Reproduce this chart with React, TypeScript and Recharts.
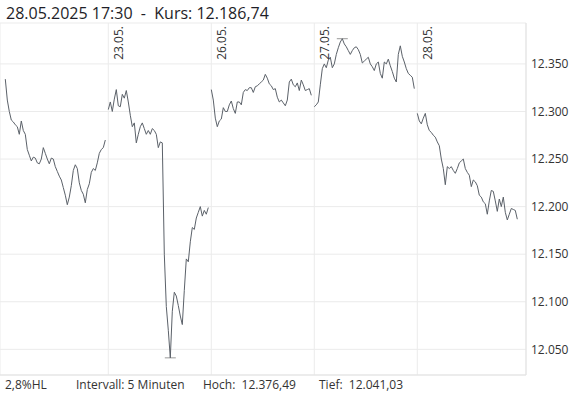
import { LineChart, Line, XAxis, YAxis, CartesianGrid, ReferenceLine } from "recharts";

// Kursverlauf in 5-Minuten-Schritten, jeder zweite Wert pro Handelstag
const DAY_LABELS = ["22.05.", "23.05.", "26.05.", "27.05.", "28.05."];

const DAY1 = [12334, 12312, 12300, 12291, 12289, 12286, 12284, 12276, 12290, 12280, 12276, 12260, 12254, 12248, 12252, 12251, 12246, 12245, 12250, 12262, 12256, 12250, 12245, 12251, 12250, 12242, 12237, 12232, 12228, 12220, 12212, 12202, 12210, 12222, 12238, 12244, 12240, 12225, 12217, 12213, 12204, 12218, 12224, 12236, 12240, 12238, 12246, 12256, 12260, 12262, 12270];
const DAY2 = [12302, 12310, 12300, 12313, 12323, 12306, 12305, 12318, 12314, 12322, 12310, 12296, 12284, 12288, 12267, 12276, 12284, 12288, 12282, 12276, 12280, 12276, 12282, 12280, 12276, 12262, 12268, 12267, 12150, 12095, 12070, 12041.03, 12090, 12110, 12106, 12096, 12085, 12076, 12112, 12145, 12142, 12163, 12178, 12176, 12188, 12194, 12200, 12190, 12196, 12192, 12199];
const DAY3 = [12323, 12312, 12293, 12284, 12290, 12292, 12304, 12300, 12300, 12307, 12311, 12303, 12298, 12310, 12310, 12307, 12320, 12323, 12322, 12325, 12325, 12320, 12326, 12327, 12329, 12331, 12333, 12339, 12335, 12329, 12327, 12323, 12324, 12315, 12310, 12312, 12309, 12306, 12312, 12331, 12334, 12328, 12326, 12330, 12322, 12333, 12328, 12322, 12323, 12324, 12317];
const DAY4 = [12305, 12307, 12310, 12328, 12345, 12350, 12346, 12354, 12357, 12346, 12350, 12360, 12367, 12373, 12376.49, 12371, 12368, 12364, 12360, 12364, 12367, 12368, 12365, 12360, 12351, 12353, 12355, 12357, 12350, 12347, 12343, 12350, 12352, 12340, 12335, 12352, 12350, 12355, 12348, 12342, 12335, 12331, 12360, 12369, 12358, 12352, 12345, 12340, 12338, 12336, 12324];
const DAY5 = [12298, 12290, 12287, 12293, 12298, 12286, 12280, 12278, 12275, 12273, 12268, 12264, 12250, 12240, 12223, 12242, 12240, 12242, 12238, 12235, 12240, 12246, 12248, 12250, 12240, 12236, 12233, 12221, 12228, 12226, 12222, 12212, 12210, 12205, 12203, 12192, 12206, 12217, 12216, 12206, 12195, 12208, 12200, 12210, 12194, 12186, 12192, 12198, 12197, 12196, 12186.74];

const Y_TICKS = [12050, 12100, 12150, 12200, 12250, 12300, 12350];
const HIGH = 12376.49;
const LOW = 12041.03;

const DAY_SLOTS = 103;
const STEP = 2;
const X_DOMAIN: [number, number] = [-5.3, 520.7];
const Y_DOMAIN: [number, number] = [12023, 12393];

const FONT = "'Open Sans', sans-serif";
const TEXT = "#333";
const GRID = "#ebebeb";

const data: { x: number; v: number | null }[] = [];
[DAY1, DAY2, DAY3, DAY4, DAY5].forEach((vals, d) => {
    if (d > 0) data.push({ x: d * DAY_SLOTS - 1.5, v: null });
    vals.forEach((v, i) => data.push({ x: d * DAY_SLOTS + i * STEP, v }));
});

const pts = data.filter((p) => p.v !== null) as { x: number; v: number }[];
const hiX = pts.reduce((a, b) => (b.v > a.v ? b : a)).x;
const loX = pts.reduce((a, b) => (b.v < a.v ? b : a)).x;

const dayTicks = DAY_LABELS.map((_, d) => d * DAY_SLOTS).slice(1);

const fmt = (v: number) => String(v).replace(/\B(?=(\d{3})+(?!\d))/g, ".");

function DayTick(props: any) {
    const { x, payload } = props;
    const label = DAY_LABELS[Math.round(payload.value / DAY_SLOTS)];
    return (
        <text
            transform={`translate(${x + 14.4},26) rotate(-90)`}
            textAnchor="end"
            fontSize={12}
            fontFamily={FONT}
            fill={TEXT}
        >
            {label}
        </text>
    );
}

export default function App() {
    return (
        <div style={{ position: "fixed", left: 0, top: 0, width: 579, height: 396, background: "#fff", fontFamily: FONT }}>
            <div style={{ position: "absolute", left: 6, top: 5, fontSize: 16, lineHeight: "16px", color: "#1e1e28", whiteSpace: "pre" }}>
                {"28.05.2025 17:30  -  Kurs: 12.186,74"}
            </div>
            <LineChart width={579} height={396} data={data} margin={{ top: 22, right: 0, left: 0, bottom: 21 }}>
                <CartesianGrid stroke={GRID} />
                <XAxis
                    type="number"
                    dataKey="x"
                    domain={X_DOMAIN}
                    ticks={dayTicks}
                    orientation="top"
                    height={1}
                    axisLine={false}
                    tickLine={false}
                    tick={<DayTick />}
                    allowDataOverflow
                />
                <YAxis
                    orientation="right"
                    width={53}
                    domain={Y_DOMAIN}
                    ticks={Y_TICKS}
                    tickFormatter={fmt}
                    axisLine={{ stroke: "#e3e3e3" }}
                    tickLine={false}
                    tickSize={0}
                    tickMargin={5}
                    tick={{ fill: TEXT, fontSize: 12, fontFamily: FONT }}
                    allowDataOverflow
                />
                <ReferenceLine y={Y_DOMAIN[0]} stroke="#e3e3e3" />
                <ReferenceLine segment={[{ x: hiX - 5.5, y: HIGH }, { x: hiX + 5.5, y: HIGH }]} stroke="#999" />
                <ReferenceLine segment={[{ x: loX - 5.5, y: LOW }, { x: loX + 5.5, y: LOW }]} stroke="#999" />
                <Line
                    type="linear"
                    dataKey="v"
                    stroke="#5b6169"
                    strokeWidth={1}
                    dot={false}
                    connectNulls={false}
                    isAnimationActive={false}
                />
            </LineChart>
            <div style={{ position: "absolute", left: 0, top: 379, fontSize: 12, lineHeight: "12px", color: TEXT, whiteSpace: "pre" }}>
                <span style={{ position: "absolute", left: 5 }}>2,8%HL</span>
                <span style={{ position: "absolute", left: 76 }}>Intervall: 5 Minuten</span>
                <span style={{ position: "absolute", left: 203 }}>{"Hoch:  12.376,49"}</span>
                <span style={{ position: "absolute", left: 319 }}>{"Tief:  12.041,03"}</span>
            </div>
        </div>
    );
}
